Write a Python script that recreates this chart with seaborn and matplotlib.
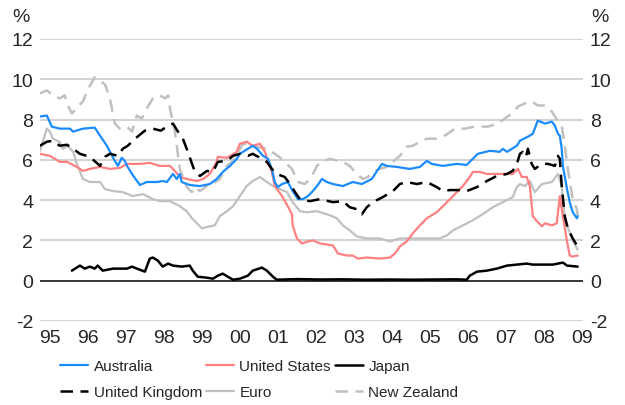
import matplotlib
matplotlib.use("Agg")
import matplotlib.pyplot as plt
import seaborn as sns
import pandas as pd

# Three-month interest rates, decimal year vs per cent
aus_t = [1995.24, 1995.42, 1995.55, 1995.76, 1996.03, 1996.11, 1996.37, 1996.68, 1996.82, 1997.00,
         1997.21, 1997.29, 1997.39, 1997.47, 1997.53, 1997.66, 1997.87, 1998.05, 1998.32, 1998.47,
         1998.58, 1998.74, 1998.84, 1998.92, 1998.97, 1999.18, 1999.45, 1999.71, 1999.89, 2000.05,
         2000.24, 2000.42, 2000.50, 2000.71, 2000.84, 2000.95, 2001.11, 2001.24, 2001.34, 2001.42,
         2001.50, 2001.61, 2001.76, 2001.89, 2002.03, 2002.16, 2002.29, 2002.42, 2002.53, 2002.66,
         2002.79, 2002.95, 2003.21, 2003.47, 2003.71, 2003.97, 2004.11, 2004.24, 2004.37, 2004.63,
         2004.97, 2005.24, 2005.42, 2005.55, 2005.84, 2006.21, 2006.47, 2006.63, 2006.76, 2007.08,
         2007.34, 2007.42, 2007.53, 2007.79, 2007.87, 2008.13, 2008.21, 2008.34, 2008.53, 2008.71,
         2008.79, 2008.87, 2008.92, 2008.97, 2009.00, 2009.11, 2009.18, 2009.26, 2009.37, 2009.39]
aus_v = [8.15, 8.2, 7.65, 7.55, 7.55, 7.4, 7.55, 7.6, 7.2, 6.7,
         5.95, 5.7, 6.1, 5.95, 5.7, 5.3, 4.75, 4.9, 4.9, 4.95,
         4.9, 5.3, 5.05, 5.3, 4.9, 4.75, 4.7, 4.8, 5.05, 5.4,
         5.7, 6.05, 6.3, 6.55, 6.7, 6.55, 6.2, 6.05, 5.55, 4.9,
         4.65, 4.8, 4.9, 4.45, 4.05, 4.05, 4.2, 4.45, 4.7, 5.05,
         4.9, 4.8, 4.7, 4.9, 4.8, 5.05, 5.45, 5.8, 5.7, 5.65,
         5.55, 5.65, 5.95, 5.8, 5.7, 5.8, 5.75, 6.05, 6.3, 6.45,
         6.4, 6.55, 6.4, 6.7, 6.95, 7.2, 7.3, 7.95, 7.8, 7.9,
         7.7, 7.3, 7.2, 6.55, 5.7, 4.55, 3.9, 3.4, 3.1, 3.2]

us_t = [1995.24, 1995.50, 1995.76, 1995.95, 1996.21, 1996.37, 1996.55, 1996.82, 1997.08, 1997.34,
        1997.53, 1997.87, 1998.13, 1998.40, 1998.66, 1998.79, 1998.92, 1999.10, 1999.37, 1999.53,
        1999.71, 1999.89, 1999.92, 2000.16, 2000.42, 2000.50, 2000.68, 2000.84, 2001.03, 2001.16,
        2001.34, 2001.42, 2001.61, 2001.76, 2001.87, 2001.89, 2002.00, 2002.13, 2002.29, 2002.42,
        2002.61, 2002.95, 2003.08, 2003.32, 2003.47, 2003.61, 2003.84, 2004.18, 2004.45, 2004.58,
        2004.71, 2004.89, 2005.05, 2005.24, 2005.42, 2005.68, 2005.95, 2006.21, 2006.37, 2006.55,
        2006.63, 2006.82, 2007.00, 2007.34, 2007.68, 2007.82, 2007.92, 2008.05, 2008.13, 2008.21,
        2008.32, 2008.45, 2008.53, 2008.71, 2008.84, 2008.92, 2009.00, 2009.11, 2009.18, 2009.26,
        2009.39]
us_v = [6.3, 6.2, 5.9, 5.9, 5.65, 5.45, 5.55, 5.65, 5.55, 5.6,
        5.8, 5.8, 5.85, 5.7, 5.7, 5.45, 5.15, 5.05, 4.95, 5.05,
        5.3, 5.9, 6.15, 6.1, 6.4, 6.8, 6.9, 6.7, 6.8, 6.4,
        5.4, 4.7, 4.2, 3.7, 3.3, 2.75, 2.1, 1.85, 1.95, 2.0,
        1.85, 1.75, 1.35, 1.25, 1.25, 1.1, 1.15, 1.1, 1.15, 1.35,
        1.7, 1.95, 2.35, 2.75, 3.1, 3.4, 3.9, 4.4, 4.7, 5.15,
        5.4, 5.4, 5.3, 5.3, 5.3, 5.55, 5.15, 5.15, 4.7, 3.2,
        2.95, 2.7, 2.85, 2.75, 2.85, 4.2, 3.2, 1.95, 1.25, 1.2,
        1.25]

jpn_t = [1996.08, 1996.29, 1996.42, 1996.55, 1996.68, 1996.76, 1996.89, 1997.16, 1997.53, 1997.66,
         1997.79, 1998.00, 1998.13, 1998.21, 1998.34, 1998.47, 1998.61, 1998.74, 1998.97, 1999.18,
         1999.26, 1999.39, 1999.63, 1999.79, 1999.92, 2000.05, 2000.18, 2000.32, 2000.50, 2000.71,
         2000.84, 2001.08, 2001.21, 2001.37, 2001.47, 2002.00, 2002.60, 2003.20, 2003.80, 2004.40,
         2005.00, 2005.60, 2006.20, 2006.47, 2006.55, 2006.74, 2007.00, 2007.26, 2007.53, 2007.79,
         2008.05, 2008.21, 2008.74, 2009.00, 2009.11, 2009.39]
jpn_v = [0.5, 0.75, 0.6, 0.7, 0.6, 0.75, 0.5, 0.6, 0.6, 0.7,
         0.6, 0.45, 1.1, 1.15, 1.0, 0.7, 0.85, 0.75, 0.7, 0.75,
         0.5, 0.2, 0.15, 0.1, 0.25, 0.35, 0.2, 0.05, 0.1, 0.25,
         0.5, 0.65, 0.5, 0.2, 0.05, 0.08, 0.06, 0.07, 0.05, 0.06,
         0.05, 0.06, 0.07, 0.05, 0.25, 0.45, 0.5, 0.6, 0.75, 0.8,
         0.85, 0.8, 0.8, 0.9, 0.75, 0.7]

uk_t = [1995.24, 1995.42, 1995.58, 1995.76, 1995.95, 1996.11, 1996.29, 1996.55, 1996.82, 1996.95,
        1997.08, 1997.29, 1997.42, 1997.55, 1997.74, 1998.00, 1998.21, 1998.42, 1998.61, 1998.74,
        1998.87, 1999.00, 1999.13, 1999.26, 1999.32, 1999.45, 1999.63, 1999.79, 1999.92, 2000.16,
        2000.32, 2000.50, 2000.71, 2000.84, 2001.03, 2001.21, 2001.34, 2001.47, 2001.68, 2001.82,
        2001.95, 2002.08, 2002.34, 2002.61, 2002.95, 2003.21, 2003.39, 2003.58, 2003.71, 2003.84,
        2004.00, 2004.26, 2004.53, 2004.71, 2004.89, 2005.16, 2005.42, 2005.68, 2005.84, 2006.03,
        2006.29, 2006.47, 2006.74, 2007.00, 2007.26, 2007.53, 2007.68, 2007.79, 2007.87, 2007.95,
        2008.03, 2008.08, 2008.18, 2008.26, 2008.45, 2008.61, 2008.79, 2008.87, 2008.92, 2008.97,
        2009.05, 2009.13, 2009.26, 2009.37, 2009.39]
uk_v = [6.7, 6.9, 6.95, 6.7, 6.75, 6.55, 6.3, 6.15, 5.7, 6.15,
        6.3, 6.2, 6.55, 6.7, 7.05, 7.45, 7.55, 7.45, 7.7, 7.8,
        7.4, 7.05, 6.4, 5.7, 5.4, 5.2, 5.45, 5.4, 5.9, 5.95,
        6.2, 6.3, 6.2, 6.3, 6.1, 5.9, 5.55, 5.3, 5.15, 4.8,
        4.4, 4.05, 3.95, 4.05, 3.9, 3.95, 3.65, 3.55, 3.3, 3.65,
        3.9, 4.15, 4.45, 4.8, 4.9, 4.8, 4.9, 4.65, 4.45, 4.5,
        4.5, 4.45, 4.65, 4.95, 5.2, 5.3, 5.45, 5.8, 6.3, 6.4,
        6.15, 6.55, 5.8, 5.55, 5.8, 5.8, 5.7, 6.2, 6.05, 4.7,
        3.2, 2.6, 2.1, 1.75, 1.7]

eur_t = [1995.24, 1995.42, 1995.50, 1995.58, 1995.76, 1995.84, 1995.97, 1996.11, 1996.21, 1996.37,
         1996.55, 1996.82, 1996.95, 1997.16, 1997.42, 1997.68, 1997.95, 1998.21, 1998.40, 1998.66,
         1998.92, 1999.10, 1999.24, 1999.37, 1999.50, 1999.71, 1999.84, 1999.97, 2000.16, 2000.32,
         2000.50, 2000.68, 2000.84, 2001.03, 2001.21, 2001.37, 2001.55, 2001.74, 2001.89, 2002.08,
         2002.26, 2002.53, 2002.87, 2003.05, 2003.21, 2003.39, 2003.58, 2003.84, 2004.18, 2004.45,
         2004.71, 2005.42, 2005.76, 2005.95, 2006.11, 2006.37, 2006.63, 2006.89, 2007.16, 2007.42,
         2007.68, 2007.79, 2007.87, 2008.00, 2008.13, 2008.26, 2008.45, 2008.71, 2008.87, 2008.97,
         2009.05, 2009.11, 2009.24, 2009.37, 2009.39]
eur_v = [6.45, 7.55, 7.4, 7.05, 6.9, 6.55, 6.7, 6.4, 5.8, 5.05,
         4.9, 4.9, 4.55, 4.45, 4.4, 4.2, 4.3, 4.05, 3.95, 3.95,
         3.7, 3.45, 3.1, 2.85, 2.6, 2.7, 2.75, 3.2, 3.45, 3.7,
         4.2, 4.7, 4.95, 5.15, 4.9, 4.7, 4.55, 4.4, 3.9, 3.45,
         3.4, 3.45, 3.25, 3.1, 2.75, 2.5, 2.2, 2.1, 2.1, 1.95,
         2.1, 2.1, 2.1, 2.25, 2.5, 2.75, 3.0, 3.3, 3.65, 3.9,
         4.15, 4.65, 4.8, 4.7, 4.95, 4.4, 4.8, 4.9, 5.3, 4.7,
         3.1, 2.75, 2.1, 1.6, 1.55]

nz_t = [1995.24, 1995.42, 1995.58, 1995.76, 1995.89, 1995.97, 1996.08, 1996.24, 1996.37, 1996.50,
        1996.68, 1996.82, 1996.95, 1997.08, 1997.21, 1997.34, 1997.53, 1997.66, 1997.79, 1997.92,
        1998.05, 1998.21, 1998.40, 1998.53, 1998.61, 1998.66, 1998.79, 1998.92, 1999.10, 1999.24,
        1999.32, 1999.45, 1999.63, 1999.79, 1999.97, 2000.16, 2000.32, 2000.58, 2000.89, 2001.24,
        2001.34, 2001.50, 2001.68, 2001.87, 2002.03, 2002.21, 2002.34, 2002.42, 2002.53, 2002.68,
        2002.87, 2003.21, 2003.39, 2003.58, 2003.74, 2003.87, 2004.00, 2004.18, 2004.37, 2004.53,
        2004.71, 2004.89, 2005.05, 2005.24, 2005.42, 2005.68, 2005.84, 2005.97, 2006.16, 2006.42,
        2006.68, 2007.03, 2007.29, 2007.47, 2007.66, 2007.82, 2008.00, 2008.18, 2008.34, 2008.53,
        2008.71, 2008.87, 2008.97, 2009.05, 2009.13, 2009.26, 2009.37, 2009.39]
nz_v = [9.3, 9.45, 9.2, 9.05, 9.2, 8.7, 8.3, 8.65, 8.9, 9.5,
        10.1, 9.9, 9.75, 9.05, 7.8, 7.55, 7.65, 7.4, 8.2, 8.05,
        8.55, 9.05, 9.2, 9.05, 9.2, 8.55, 7.4, 5.55, 4.65, 4.4,
        4.65, 4.45, 4.7, 4.8, 5.05, 5.7, 5.95, 6.8, 6.65, 6.55,
        6.4, 6.2, 5.9, 5.55, 4.9, 4.8, 5.05, 5.3, 5.7, 5.95,
        6.05, 5.9, 5.7, 5.3, 5.05, 5.15, 5.4, 5.55, 5.65, 5.9,
        6.2, 6.65, 6.7, 6.9, 7.05, 7.05, 7.15, 7.3, 7.55, 7.55,
        7.65, 7.65, 7.8, 8.05, 8.3, 8.65, 8.8, 8.9, 8.7, 8.7,
        8.4, 7.9, 7.7, 6.7, 5.55, 4.05, 3.55, 3.2]

series_names = ["Australia", "United States", "Japan", "United Kingdom", "Euro", "New Zealand"]
year_labels = ["95", "96", "97", "98", "99", "00", "01", "02", "03", "04", "05", "06", "07", "08", "09"]
y_ticks = [-2, 0, 2, 4, 6, 8, 10, 12]

sns.set_style("white")
plt.rcParams["font.family"] = ["Liberation Sans", "DejaVu Sans"]

fig = plt.figure(figsize=(6.25, 4.06), dpi=100)
ax = fig.add_axes([40 / 625, 1 - 322 / 406, 543 / 625, 282 / 406])

grey = "#c0c0c0"
styles = {
    "Australia": dict(color="#1a8cff", linestyle="-", lw=1.6),
    "United States": dict(color="#ff8080", linestyle="-", lw=1.6),
    "Japan": dict(color="black", linestyle="-", lw=1.8),
    "United Kingdom": dict(color="black", linestyle=(0, (5, 3)), lw=1.8),
    "Euro": dict(color=grey, linestyle="-", lw=1.6),
    "New Zealand": dict(color=grey, linestyle=(0, (5, 3)), lw=1.8),
}
data = {
    "Australia": (aus_t, aus_v),
    "United States": (us_t, us_v),
    "Japan": (jpn_t, jpn_v),
    "United Kingdom": (uk_t, uk_v),
    "Euro": (eur_t, eur_v),
    "New Zealand": (nz_t, nz_v),
}

for yv in y_ticks:
    if yv != 0:
        ax.axhline(yv, color="#c8c8c8", lw=1.1, zorder=0)

draw_order = ["Euro", "New Zealand", "United States", "Australia", "United Kingdom", "Japan"]
handles = {}
for name in draw_order:
    t, v = data[name]
    df = pd.DataFrame({"year": t, "rate": v})
    st = styles[name]
    sns.lineplot(data=df, x="year", y="rate", ax=ax, color=st["color"],
                 linestyle=st["linestyle"], linewidth=st["lw"], errorbar=None,
                 label=name, legend=False, zorder=3)
    handles[name] = ax.get_lines()[-1]

ax.axhline(0, color="black", lw=1.1, zorder=2)

ax.set_xlim(1995.24, 2009.53)
ax.set_ylim(-2, 12)
ax.set_xticks([1995.5 + i for i in range(len(year_labels))])
ax.set_xticklabels(year_labels)
ax.set_yticks(y_ticks)
ax.set_yticklabels([str(v) for v in y_ticks])
ax.tick_params(axis="y", length=0, labelsize=14, pad=5, labelright=True, labelleft=True)
ax.tick_params(axis="x", length=0, labelsize=14, pad=6)
ax.set_xlabel("")
ax.set_ylabel("")
for s in ax.spines.values():
    s.set_visible(False)
ax.grid(False)

fig.text(21 / 625, 1 - 18 / 406, "%", ha="center", va="center", fontsize=14)
fig.text(600 / 625, 1 - 18 / 406, "%", ha="center", va="center", fontsize=14)

legend_order = ["Australia", "United Kingdom", "United States", "Euro", "Japan", "New Zealand"]
fig.legend([handles[n] for n in legend_order], legend_order, ncol=3,
           loc="upper left", bbox_to_anchor=(60 / 625, 1 - 360 / 406),
           frameon=False, fontsize=11, handlelength=1.85, handletextpad=0.35,
           columnspacing=0.25, labelspacing=0.8, borderpad=0, borderaxespad=0)

fig.savefig("out.png", dpi=100)
